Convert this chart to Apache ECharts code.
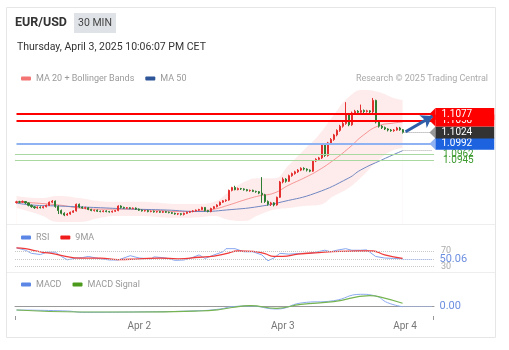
<!DOCTYPE html>
<html><head><meta charset="utf-8">
<script src="https://cdn.jsdelivr.net/npm/echarts@6/dist/echarts.min.js"></script>
<style>html,body{margin:0;padding:0;background:#fff}#c{width:509px;height:350px}</style>
</head><body><div id="c"></div>
<script>
// ---- categories (30-min slots from Apr 1 03:30) ----
const SLOTS = 140;
const categories = [];
for (let k = 0; k < SLOTS; k++) {
  const t = new Date(Date.UTC(2025, 3, 1, 3, 30) + k * 1800000);
  categories.push('Apr ' + t.getUTCDate() + ' ' + String(t.getUTCHours()).padStart(2,'0') + ':' + String(t.getUTCMinutes()).padStart(2,'0'));
}
const xTickLabels = {41: 'Apr 2', 89: 'Apr 3', 137: 'Apr 4'};

// ---- candles [open, close, low, high] ----
const candles = [
[1.0823,1.0825,1.0820,1.0828],[1.0825,1.0824,1.0821,1.0828],[1.0824,1.0826,1.0822,1.0829],[1.0826,1.0822,1.0819,1.0827],
[1.0822,1.0815,1.0812,1.0823],[1.0815,1.0811,1.0808,1.0817],[1.0811,1.0808,1.0805,1.0813],[1.0808,1.0810,1.0805,1.0812],
[1.0810,1.0808,1.0806,1.0812],[1.0808,1.0811,1.0806,1.0813],[1.0811,1.0815,1.0809,1.0817],[1.0815,1.0824,1.0813,1.0826],
[1.0824,1.0827,1.0821,1.0830],[1.0827,1.0812,1.0808,1.0829],[1.0812,1.0800,1.0790,1.0815],[1.0800,1.0792,1.0789,1.0803],
[1.0792,1.0787,1.0784,1.0795],[1.0787,1.0790,1.0785,1.0793],[1.0790,1.0795,1.0788,1.0797],[1.0795,1.0799,1.0793,1.0801],
[1.0799,1.0818,1.0797,1.0820],[1.0818,1.0810,1.0807,1.0820],[1.0810,1.0807,1.0805,1.0812],[1.0807,1.0808,1.0804,1.0811],
[1.0808,1.0803,1.0801,1.0810],[1.0803,1.0800,1.0798,1.0805],[1.0800,1.0801,1.0797,1.0803],[1.0801,1.0798,1.0796,1.0803],
[1.0798,1.0797,1.0795,1.0800],[1.0797,1.0799,1.0795,1.0801],[1.0799,1.0797,1.0795,1.0801],[1.0797,1.0796,1.0794,1.0799],
[1.0796,1.0798,1.0794,1.0800],[1.0798,1.0800,1.0796,1.0802],[1.0800,1.0813,1.0798,1.0815],[1.0813,1.0809,1.0806,1.0815],
[1.0809,1.0807,1.0805,1.0811],[1.0807,1.0808,1.0805,1.0810],[1.0808,1.0806,1.0804,1.0810],[1.0806,1.0807,1.0804,1.0809],
[1.0807,1.0804,1.0802,1.0809],[1.0804,1.0801,1.0799,1.0806],[1.0801,1.0799,1.0797,1.0803],[1.0799,1.0800,1.0797,1.0802],
[1.0800,1.0797,1.0795,1.0802],[1.0797,1.0798,1.0795,1.0800],[1.0798,1.0796,1.0794,1.0800],[1.0796,1.0797,1.0794,1.0799],
[1.0797,1.0795,1.0793,1.0799],[1.0795,1.0797,1.0793,1.0799],[1.0797,1.0795,1.0793,1.0799],[1.0795,1.0794,1.0792,1.0797],
[1.0794,1.0792,1.0790,1.0796],[1.0792,1.0790,1.0788,1.0794],[1.0790,1.0791,1.0787,1.0793],[1.0791,1.0789,1.0786,1.0793],
[1.0789,1.0792,1.0786,1.0794],[1.0792,1.0795,1.0790,1.0797],[1.0795,1.0797,1.0793,1.0799],[1.0797,1.0799,1.0795,1.0801],
[1.0799,1.0801,1.0797,1.0803],[1.0801,1.0803,1.0799,1.0805],[1.0803,1.0809,1.0801,1.0811],[1.0809,1.0800,1.0797,1.0810],
[1.0800,1.0797,1.0795,1.0802],[1.0797,1.0806,1.0795,1.0808],[1.0806,1.0811,1.0804,1.0813],[1.0811,1.0816,1.0809,1.0818],
[1.0816,1.0824,1.0814,1.0826],[1.0824,1.0828,1.0822,1.0830],[1.0828,1.0830,1.0825,1.0832],[1.0830,1.0858,1.0828,1.0860],
[1.0858,1.0866,1.0855,1.0868],[1.0866,1.0860,1.0858,1.0871],[1.0860,1.0863,1.0858,1.0866],[1.0863,1.0862,1.0859,1.0865],
[1.0862,1.0860,1.0857,1.0864],[1.0860,1.0857,1.0855,1.0862],[1.0857,1.0858,1.0854,1.0860],[1.0858,1.0855,1.0853,1.0860],
[1.0855,1.0854,1.0851,1.0857],[1.0854,1.0850,1.0847,1.0856],[1.0850,1.0845,1.0822,1.0896],[1.0845,1.0826,1.0822,1.0848],
[1.0826,1.0818,1.0814,1.0829],[1.0818,1.0822,1.0813,1.0825],[1.0822,1.0816,1.0812,1.0824],[1.0816,1.0838,1.0814,1.0840],
[1.0838,1.0882,1.0836,1.0885],[1.0882,1.0890,1.0878,1.0895],[1.0890,1.0884,1.0880,1.0893],[1.0884,1.0900,1.0882,1.0903],
[1.0900,1.0906,1.0897,1.0909],[1.0906,1.0911,1.0903,1.0914],[1.0911,1.0916,1.0908,1.0919],[1.0916,1.0921,1.0913,1.0924],
[1.0921,1.0919,1.0915,1.0924],[1.0919,1.0916,1.0912,1.0921],[1.0916,1.0913,1.0910,1.0918],[1.0913,1.0942,1.0911,1.0944],
[1.0942,1.0947,1.0939,1.0950],[1.0947,1.0951,1.0943,1.0954],[1.0951,1.0988,1.0948,1.0991],[1.0988,1.0958,1.0954,1.0991],
[1.0958,1.0994,1.0955,1.0997],[1.0994,1.1004,1.0990,1.1008],[1.1004,1.1017,1.1000,1.1020],[1.1017,1.1030,1.1013,1.1033],
[1.1030,1.1042,1.1026,1.1046],[1.1042,1.1050,1.1038,1.1056],[1.1050,1.1076,1.1046,1.1111],[1.1076,1.1046,1.1042,1.1080],
[1.1046,1.1080,1.1043,1.1084],[1.1080,1.1085,1.1076,1.1089],[1.1085,1.1082,1.1078,1.1088],[1.1082,1.1087,1.1079,1.1104],
[1.1087,1.1084,1.1080,1.1090],[1.1084,1.1086,1.1081,1.1089],[1.1086,1.1083,1.1079,1.1088],[1.1083,1.1116,1.1080,1.1123],
[1.1116,1.1054,1.1050,1.1118],[1.1054,1.1042,1.1038,1.1057],[1.1042,1.1038,1.1034,1.1045],[1.1038,1.1034,1.1031,1.1041],
[1.1034,1.1031,1.1027,1.1036],[1.1031,1.1029,1.1026,1.1034],[1.1029,1.1031,1.1026,1.1034],[1.1031,1.1037,1.1029,1.1040],
[1.1037,1.1032,1.1029,1.1040],[1.1032,1.1024,1.1021,1.1034]
];

// ---- indicators as [slotIndex, value] ----
const ma20 = [[0,1.0825],[14,1.0816],[21,1.0807],[28,1.0804],[34,1.0804],[41,1.0803],[48,1.0800],[54,1.0797],[61,1.0799],[66,1.0804],[71,1.0816],[76,1.0830],[81,1.0842],[86,1.0850],[91,1.0873],[96,1.0893],[101,1.0916],[106,1.0945],[111,1.0979],[116,1.1017],[121,1.1043],[126,1.1051],[129,1.1054]];
const bbUpper = [[0,1.0842],[8,1.0836],[14,1.0842],[21,1.0836],[28,1.0827],[34,1.0825],[41,1.0825],[48,1.0822],[54,1.0819],[61,1.0819],[66,1.0825],[71,1.0853],[76,1.0882],[81,1.0893],[86,1.0893],[91,1.0931],[96,1.0974],[101,1.1017],[106,1.1074],[111,1.1126],[116,1.1146],[121,1.1140],[126,1.1123],[129,1.1117]];
const bbLower = [[0,1.0807],[8,1.0787],[14,1.0767],[21,1.0767],[28,1.0779],[34,1.0784],[41,1.0784],[48,1.0781],[54,1.0779],[61,1.0781],[66,1.0784],[71,1.0773],[76,1.0770],[81,1.0787],[86,1.0802],[91,1.0807],[96,1.0813],[101,1.0816],[106,1.0842],[111,1.0865],[116,1.0902],[121,1.0945],[126,1.0974],[129,1.0979]];
const ma50 = [[0,1.08216],[5,1.08159],[14,1.08130],[28,1.08081],[38,1.08044],[50,1.08015],[61,1.07972],[72,1.08030],[81,1.08116],[89,1.08254],[100,1.08503],[111,1.08934],[115,1.09163],[122,1.09450],[129,1.09717]];

const rsi = [[0,78],[3,72],[5,64],[8,61],[10,67],[13,67],[15,56],[17,47.5],[20,52],[22,53],[24,56],[28,50],[31,47],[34,47],[38,58],[41,52],[45,50],[46,55],[50,52],[53,46],[56,47],[59,54],[61,60],[63,51],[66,60],[69,68],[70,76],[73,76],[76,68],[79,68],[82,60],[84,45],[86,52],[88,64],[91,62],[95,64],[98,64],[100,67],[103,72],[105,68],[107,72],[110,76],[112,72],[115,72],[117,73],[120,56],[123,52],[126,51],[129,50.06]];
const rsiMA = [[0,78],[3,76],[8,68],[13,62],[16,57],[21,52],[28,52],[34,48],[41,50],[48,52],[54,50],[61,54],[66,57],[70,63],[74,70],[79,69],[83,63],[86,56],[89,56],[94,62],[101,66],[108,69],[115,70],[119,70],[123,60],[129,51]];
const macd = [[0,-0.0007],[17,-0.0009],[22,-0.00116],[39,-0.0011],[61,-0.00084],[68,-0.0005],[72,-0.00004],[78,0.0001],[87,-0.0005],[95,0.0007],[106,0.00116],[115,0.00244],[120,0.0021],[124,0.00076],[129,-0.00004]];
const macdSignal = [[0,-0.0007],[22,-0.0011],[39,-0.0011],[61,-0.0009],[68,-0.0006],[72,-0.0002],[78,0.00016],[87,-0.00036],[95,0.00044],[106,0.00096],[118,0.00216],[122,0.00184],[129,0.00064]];

// ---- levels ----
const lastClose = 1.1024, lastMA50 = 1.09717, lastRSI = 50.06, lastMACD = -0.00004;
const resistance1 = 1.1077, resistance2 = 1.1058, pivot = 1.0992, support1 = 1.0962, support2 = 1.0945;
const arrowFrom = [130, 1.1026], arrowTo = [139, 1.1071];

const LAST = candles.length - 1, END = SLOTS - 1;
const chart = echarts.init(document.getElementById('c'), null, {renderer: 'canvas'});
const FONT = 'Roboto, "Liberation Sans", Arial, sans-serif';

function boxLabel(text, bg) {
  return {show: true, position: 'end', distance: 3, formatter: text, color: '#fff', backgroundColor: bg,
    padding: [2, 22, 1, 6], fontSize: 10, fontFamily: FONT, lineHeight: 9};
}
// a level line across the plot with a tagged value box at its right end
function tagLine(fromIdx, value, lineStyle, bg, text) {
  return [
    {xAxis: fromIdx, yAxis: value, symbol: 'none', lineStyle: lineStyle, label: boxLabel(text, bg)},
    {xAxis: END, yAxis: value, symbol: 'triangle', symbolSize: [12, 6], symbolRotate: 90, itemStyle: {color: bg}}
  ];
}

const option = {
  animation: false,
  textStyle: {fontFamily: FONT},
  grid: [
    {left: 15, right: 75, top: 88, height: 136},
    {left: 15, right: 75, top: 240, height: 32},
    {left: 15, right: 75, top: 286, height: 30}
  ],
  legend: [
    {data: ['MA 20 + Bollinger Bands', 'MA 50'], left: 16, top: 69, itemWidth: 10, itemHeight: 4, icon: 'roundRect', itemGap: 11,
      textStyle: {fontSize: 9, color: '#999', fontFamily: FONT}, selectedMode: false},
    {data: ['RSI', '9MA'], left: 16, top: 228, itemWidth: 10, itemHeight: 4, icon: 'roundRect', itemGap: 11,
      textStyle: {fontSize: 9, color: '#999', fontFamily: FONT}, selectedMode: false},
    {data: ['MACD', 'MACD Signal'], left: 16, top: 275, itemWidth: 10, itemHeight: 4, icon: 'roundRect', itemGap: 11,
      textStyle: {fontSize: 9, color: '#999', fontFamily: FONT}, selectedMode: false}
  ],
  xAxis: [
    {gridIndex: 0, type: 'category', data: categories, boundaryGap: true, show: false},
    {gridIndex: 1, type: 'category', data: categories, boundaryGap: true, show: false},
    {gridIndex: 2, type: 'category', data: categories, boundaryGap: true,
      axisLine: {show: true, lineStyle: {color: '#999', width: 1}},
      axisTick: {show: false},
      splitLine: {show: false},
      axisLabel: {interval: (i) => xTickLabels[i] !== undefined, margin: 5, color: '#777', fontSize: 10, fontFamily: FONT,
        formatter: (v, i) => i === 137 ? '{r|' + xTickLabels[i] + '}' : (xTickLabels[i] || ''),
        rich: {r: {padding: [0, 43, 0, 0], color: '#777', fontSize: 10, fontFamily: FONT}}}}
  ],
  yAxis: [
    {gridIndex: 0, type: 'value', min: 1.07614, max: 1.11516, show: false, splitLine: {show: false}},
    {gridIndex: 1, type: 'value', min: 16.2, max: 98.2, show: false, splitLine: {show: false}},
    {gridIndex: 2, type: 'value', min: -0.0019, max: 0.0041, show: false, splitLine: {show: false}}
  ],
  series: [
    {name: 'bbU', type: 'line', xAxisIndex: 0, yAxisIndex: 0, data: bbUpper, smooth: true, symbol: 'none', silent: true,
      lineStyle: {width: 0, opacity: 0}, areaStyle: {color: 'rgba(244,80,80,0.15)', origin: 'start'}, z: 1},
    {name: 'bbL', type: 'line', xAxisIndex: 0, yAxisIndex: 0, data: bbLower, smooth: true, symbol: 'none', silent: true,
      lineStyle: {width: 0, opacity: 0}, areaStyle: {color: '#ffffff', opacity: 1, origin: 'start'}, z: 1},
    {name: 'MA 20 + Bollinger Bands', type: 'line', xAxisIndex: 0, yAxisIndex: 0, data: ma20, smooth: true, symbol: 'none',
      itemStyle: {color: '#f47373'}, lineStyle: {color: 'rgba(240,90,90,0.6)', width: 1}, z: 2},
    {name: 'MA 50', type: 'line', xAxisIndex: 0, yAxisIndex: 0, data: ma50, smooth: true, symbol: 'none',
      itemStyle: {color: '#2d5597'}, lineStyle: {color: '#6f86c0', width: 1}, z: 2},
    {name: 'Price', type: 'candlestick', xAxisIndex: 0, yAxisIndex: 0, data: candles, barWidth: 1.6, z: 3,
      itemStyle: {color: '#e53030', color0: '#2e7d32', borderColor: '#e53030', borderColor0: '#2e7d32', borderWidth: 1},
      markLine: {silent: true, animation: false, symbol: ['none', 'none'], precision: 5,
        data: [
          {yAxis: support2, lineStyle: {color: '#a9d9a1', width: 1.2, type: 'solid'},
            label: {show: true, position: 'end', distance: 9, formatter: '1.0945', color: '#3c9a2e', fontSize: 10, fontFamily: FONT}},
          {yAxis: support1, lineStyle: {color: '#a9d9a1', width: 1.2, type: 'solid'},
            label: {show: true, position: 'end', distance: 9, formatter: '1.0962', color: '#3c9a2e', fontSize: 10, fontFamily: FONT}},
          [{coord: [LAST, lastMA50], lineStyle: {color: '#aaa', width: 1, type: 'dotted'}, label: {show: false}},
           {coord: [END, lastMA50]}],
          tagLine(0, pivot, {color: '#8fb2f2', width: 2, type: 'solid'}, '#1d63e0', '1.0992'),
          tagLine(LAST, lastClose, {color: '#999', width: 1, type: 'dotted'}, '#333333', '1.1024'),
          tagLine(0, resistance2, {color: '#ff0000', width: 2, type: 'solid'}, '#ff0000', '1.1058'),
          tagLine(0, resistance1, {color: '#ff0000', width: 2, type: 'solid'}, '#ff0000', '1.1077'),
          [{coord: arrowFrom, symbol: 'none', lineStyle: {color: '#2f5fa8', width: 3, type: 'solid'}, label: {show: false}},
           {coord: arrowTo, symbol: 'arrow', symbolSize: 11, itemStyle: {color: '#2f5fa8'}}]
        ]}},
    {name: 'RSI', type: 'line', xAxisIndex: 1, yAxisIndex: 1, data: rsi, symbol: 'none',
      itemStyle: {color: '#5b86e5'}, lineStyle: {color: '#86a6ee', width: 1}, z: 2,
      markLine: {silent: true, animation: false, symbol: ['none', 'none'],
        data: [
          {yAxis: 70, lineStyle: {color: '#c8c8c8', width: 1, type: 'dotted'},
            label: {show: true, position: 'end', distance: 7, formatter: '70', color: '#aaa', fontSize: 9, fontFamily: FONT}},
          {yAxis: 50, lineStyle: {color: '#c8c8c8', width: 1, type: 'dotted'}, label: {show: false}},
          {yAxis: 30, lineStyle: {color: '#c8c8c8', width: 1, type: 'dotted'},
            label: {show: true, position: 'end', distance: 7, formatter: '30', color: '#aaa', fontSize: 9, fontFamily: FONT}},
          [{coord: [LAST, lastRSI], lineStyle: {color: '#9db5ef', width: 1, type: 'dotted'},
            label: {show: true, position: 'end', distance: 7, formatter: '50.06', color: '#6d8fe0', fontSize: 11, fontFamily: FONT}},
           {coord: [END, lastRSI]}]
        ]}},
    {name: '9MA', type: 'line', xAxisIndex: 1, yAxisIndex: 1, data: rsiMA, smooth: true, symbol: 'none',
      itemStyle: {color: '#f01c1c'}, lineStyle: {color: '#f03a3a', width: 1.3}, z: 3},
    {name: 'MACD', type: 'line', xAxisIndex: 2, yAxisIndex: 2, data: macd, smooth: true, symbol: 'none',
      itemStyle: {color: '#5b86e5'}, lineStyle: {color: '#8aa9ef', width: 1}, z: 2,
      markLine: {silent: true, animation: false, symbol: ['none', 'none'],
        data: [
          [{coord: [LAST, lastMACD], lineStyle: {color: '#9db5ef', width: 1, type: 'dotted'},
            label: {show: true, position: 'end', distance: 7, formatter: '0.00', color: '#6d8fe0', fontSize: 11, fontFamily: FONT}},
           {coord: [END, lastMACD]}]
        ]}},
    {name: 'MACD Signal', type: 'line', xAxisIndex: 2, yAxisIndex: 2, data: macdSignal, smooth: true, symbol: 'none',
      itemStyle: {color: '#4c9a1c'}, lineStyle: {color: '#76b451', width: 1.2}, z: 3}
  ],
  graphic: [
    {type: 'rect', silent: true, shape: {x: 6.5, y: 7.5, width: 489, height: 330}, style: {fill: 'none', stroke: '#e6e6e6', lineWidth: 1}, z: -1},
    {type: 'line', silent: true, shape: {x1: 7, y1: 224.5, x2: 495, y2: 224.5}, style: {stroke: '#eeeeee', lineWidth: 1}},
    {type: 'line', silent: true, shape: {x1: 7, y1: 272.5, x2: 495, y2: 272.5}, style: {stroke: '#eeeeee', lineWidth: 1}},
    {type: 'line', silent: true, shape: {x1: 15.5, y1: 316, x2: 15.5, y2: 320}, style: {stroke: '#999', lineWidth: 1}},
    {type: 'line', silent: true, shape: {x1: 433.5, y1: 316, x2: 433.5, y2: 320}, style: {stroke: '#999', lineWidth: 1}},
    {type: 'text', left: 15, top: 16, style: {text: 'EUR/USD', font: 'bold 12.5px ' + FONT, fill: '#333'}},
    {type: 'rect', silent: true, shape: {x: 74, y: 13, width: 42, height: 20}, style: {fill: '#dfe2e6'}},
    {type: 'text', x: 95, y: 23, style: {text: '30 MIN', font: '10.5px ' + FONT, fill: '#444', align: 'center', verticalAlign: 'middle'}},
    {type: 'text', x: 17, y: 47, style: {text: 'Thursday, April 3, 2025 10:06:07 PM CET', font: '10.5px ' + FONT, fill: '#333', verticalAlign: 'middle'}},
    {type: 'text', x: 488, y: 79, style: {text: 'Research © 2025 Trading Central', font: '9px ' + FONT, fill: '#aaa', align: 'right', verticalAlign: 'middle'}}
  ]
};
chart.setOption(option);
</script>
</body></html>
